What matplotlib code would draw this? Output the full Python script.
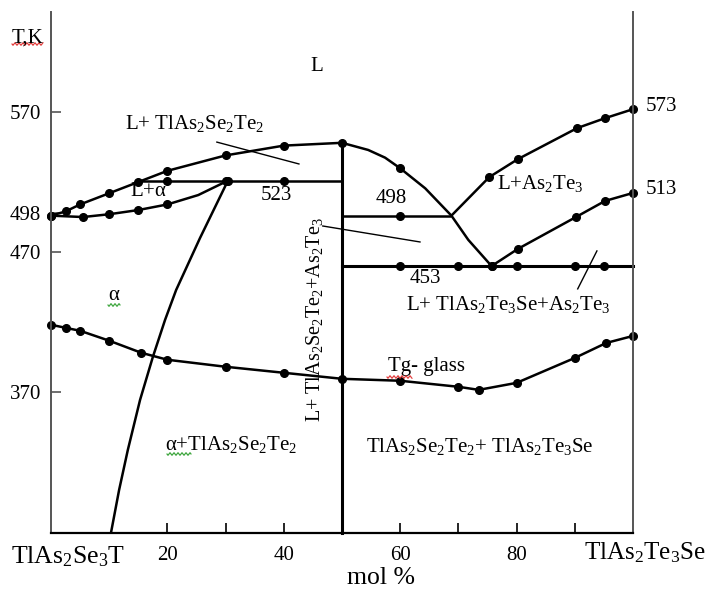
import numpy as np
import matplotlib
matplotlib.use("Agg")
import matplotlib.pyplot as plt
from matplotlib.lines import Line2D

plt.rcParams['font.family'] = ['Liberation Serif', 'DejaVu Serif']
plt.rcParams['mathtext.fontset'] = 'custom'
plt.rcParams['mathtext.rm'] = 'Liberation Serif'
plt.rcParams['mathtext.it'] = 'Liberation Serif:italic'

W, H = 708, 589

# liquidus, TlAs2Se3T side
liq_left_x = [0, 2.5, 5, 10, 15, 20, 30, 40, 50]
liq_left_T = [496, 499, 504, 512, 520, 528, 539, 546, 548]

# solidus, TlAs2Se3T side (vertex at 25.3 has no dot)
sol_left_x = [0, 5.5, 10, 15, 20, 25.3, 30.4]
sol_left_T = [496, 495, 497, 500, 504, 510.7, 521]
sol_left_dots = [0, 1, 2, 3, 4, 6]

# alpha solvus (no dots)
solvus_x = [30.4, 25.6, 21.5, 19.6, 17.5, 15.3, 13.2, 11.7, 10.3]
solvus_T = [521, 480.0, 442.9, 421.6, 395.1, 364.4, 328.7, 300.1, 269.4]

# peritectic 523 line
line523_x = [15, 50]
line523_T = 521
dots523_x = [20, 30, 40]

# liquidus from 50 % down to the eutectic
liq_mid_x = [50, 54.5, 57.4, 60, 64.3, 68.8, 71.7, 75.7]
liq_mid_T = [548, 542.9, 537.4, 529.8, 515.5, 496, 478.7, 460]

# 498 line
line498_x = [50, 68.8]
line498_T = 496
dots498_x = [60]

# 453 eutectic line
line453_x = [50, 100]
line453_T = 460
dots453_x = [60, 70, 75.7, 80, 90, 95]

# liquidus, As2Te3 primary crystallisation
liq_right_x = [68.8, 75.3, 80.2, 90.4, 95.2, 100]
liq_right_T = [496, 523.5, 536.3, 558.5, 565.6, 572]

# lower curve to 513
low_right_x = [75.7, 80.2, 90.2, 95.2, 100]
low_right_T = [460, 472.2, 495.0, 506.5, 512.2]

# glass transition
tg_x = [0, 2.5, 5, 10, 15.5, 20, 30, 40, 50, 60, 70, 73.5, 80, 90, 95.4, 100]
tg_T = [418.1, 415.9, 413.8, 406.7, 398.1, 393.1, 388.1, 383.8, 379.5,
        378.1, 373.8, 371.6, 376.6, 394.4, 405.1, 410.1]

# pointer lines for labels
pointers = [([28.5, 42.6], [548.5, 532.9]),
            ([46.7, 63.4], [488.6, 477.2]),
            ([93.8, 90.5], [470.8, 443.7])]

y_ticks = [370, 470, 498, 570]
x_ticks = [20, 30, 40, 50, 60, 70, 80, 90]

fig = plt.figure(figsize=(W / 100, H / 100), dpi=100)
ax = fig.add_axes([51 / W, (H - 533) / H, 582 / W, 521 / H])
ax.set_xlim(0, 100)
ax.set_ylim(269.4, 641.4)

lw = 1.8
ms = 5.5
kw = dict(color='black', lw=lw, clip_on=False, solid_capstyle='butt',
          solid_joinstyle='round')
dk = dict(color='black', ls='none', marker='o', ms=ms, clip_on=False)

ax.plot(liq_left_x, liq_left_T, **kw)
ax.plot(liq_left_x, liq_left_T, **dk)
ax.plot(sol_left_x, sol_left_T, **kw)
ax.plot([sol_left_x[i] for i in sol_left_dots],
        [sol_left_T[i] for i in sol_left_dots], **dk)
ax.plot(solvus_x, solvus_T, **kw)
ax.plot(line523_x, [line523_T] * 2, **kw)
ax.plot(dots523_x, [line523_T] * len(dots523_x), **dk)
ax.plot([50, 50], [269.4, liq_left_T[-1]], color='black', lw=2.2, clip_on=False)
ax.plot(liq_mid_x, liq_mid_T, **kw)
ax.plot([liq_mid_x[3]], [liq_mid_T[3]], **dk)
ax.plot(line498_x, [line498_T] * 2, **kw)
ax.plot(dots498_x, [line498_T] * len(dots498_x), **dk)
ax.plot(line453_x, [line453_T] * 2, color='black', lw=2.2, clip_on=False)
ax.plot(dots453_x, [line453_T] * len(dots453_x), **dk)
ax.plot(liq_right_x, liq_right_T, **kw)
ax.plot(liq_right_x[1:], liq_right_T[1:], **dk)
ax.plot(low_right_x, low_right_T, **kw)
ax.plot(low_right_x, low_right_T, **dk)
ax.plot(tg_x, tg_T, **kw)
ax.plot(tg_x, tg_T, **dk)
for px_, py_ in pointers:
    ax.plot(px_, py_, color='black', lw=1.0)

# axes look
ax.spines['top'].set_visible(False)
for s in ['left', 'right']:
    ax.spines[s].set_color('#555555')
    ax.spines[s].set_linewidth(1.4)
ax.spines['bottom'].set_color('black')
ax.spines['bottom'].set_linewidth(1.6)
ax.set_yticks(y_ticks)
ax.set_yticklabels([str(t) for t in y_ticks], fontsize=15)
ax.set_xticks(x_ticks)
ax.set_xticklabels(['' if t % 20 else str(t) for t in x_ticks], fontsize=15)
ax.tick_params(axis='y', direction='in', length=7, width=1.2, color='#555555', pad=7)
ax.tick_params(axis='x', direction='in', length=7, width=1.2, pad=9)

fs = 15
ax.text(45.7, 602.5, 'L', fontsize=fs, ha='center', va='center')
ax.text(24.7, 562.1, r'L+ TlAs$_2$Se$_2$Te$_2$', fontsize=fs, ha='center', va='center')
ax.text(16.7, 512.9, r'L+$\mathrm{\alpha}$', fontsize=fs, ha='center', va='center')
ax.text(38.8, 510.7, '523', fontsize=fs, ha='center', va='center')
ax.text(58.4, 507.9, '498', fontsize=fs, ha='center', va='center')
ax.text(84.0, 519.3, r'L+As$_2$Te$_3$', fontsize=fs, ha='center', va='center')
ax.text(102.2, 573.6, '573', fontsize=fs, ha='left', va='center')
ax.text(102.2, 515.0, '513', fontsize=fs, ha='left', va='center')
ax.text(64.4, 450.8, '453', fontsize=fs, ha='center', va='center')
ax.text(78.5, 432.2, r'L+ TlAs$_2$Te$_3$Se+As$_2$Te$_3$', fontsize=fs, ha='center', va='center')
ax.text(10.8, 439.3, 'α', fontsize=fs, ha='center', va='center')
ax.text(45.2, 421.5, r'L+ TlAs$_2$Se$_2$Te$_2$+As$_2$Te$_3$', fontsize=14.5,
        ha='center', va='center', rotation=90)
ax.text(64.6, 388.0, 'Tg- glass', fontsize=fs, ha='center', va='center')
ax.text(30.9, 332.3, r'α+TlAs$_2$Se$_2$Te$_2$', fontsize=fs, ha='center', va='center')
ax.text(73.7, 330.9, r'TlAs$_2$Se$_2$Te$_2$+ TlAs$_2$Te$_3$Se', fontsize=fs,
        ha='center', va='center')


def fpos(x, y):
    return x / W, 1 - y / H


fig.text(*fpos(27, 38), 'T,K', fontsize=15, ha='center', va='center')
fig.text(*fpos(68, 557), r'TlAs$_2$Se$_3$T', fontsize=18.5, ha='center', va='center')
fig.text(*fpos(706, 553), r'TlAs$_2$Te$_3$Se', fontsize=18, ha='right', va='center')
fig.text(*fpos(381, 578), 'mol %', fontsize=18.5, ha='center', va='center')


def wavy(x0, x1, y, color):
    xs = np.linspace(x0, x1, 60)
    ys = y + 1.2 * np.sin((xs - x0) / 4.0 * 2 * np.pi)
    fx, fy = fpos(xs, ys)
    fig.add_artist(Line2D(fx, fy, color=color, lw=0.8, transform=fig.transFigure))


wavy(12, 43, 44, '#e03030')
wavy(108, 120, 305, '#30a030')
wavy(167, 191, 454, '#30a030')
wavy(387, 412, 377, '#e03030')

fig.savefig('out.png', dpi=100)
